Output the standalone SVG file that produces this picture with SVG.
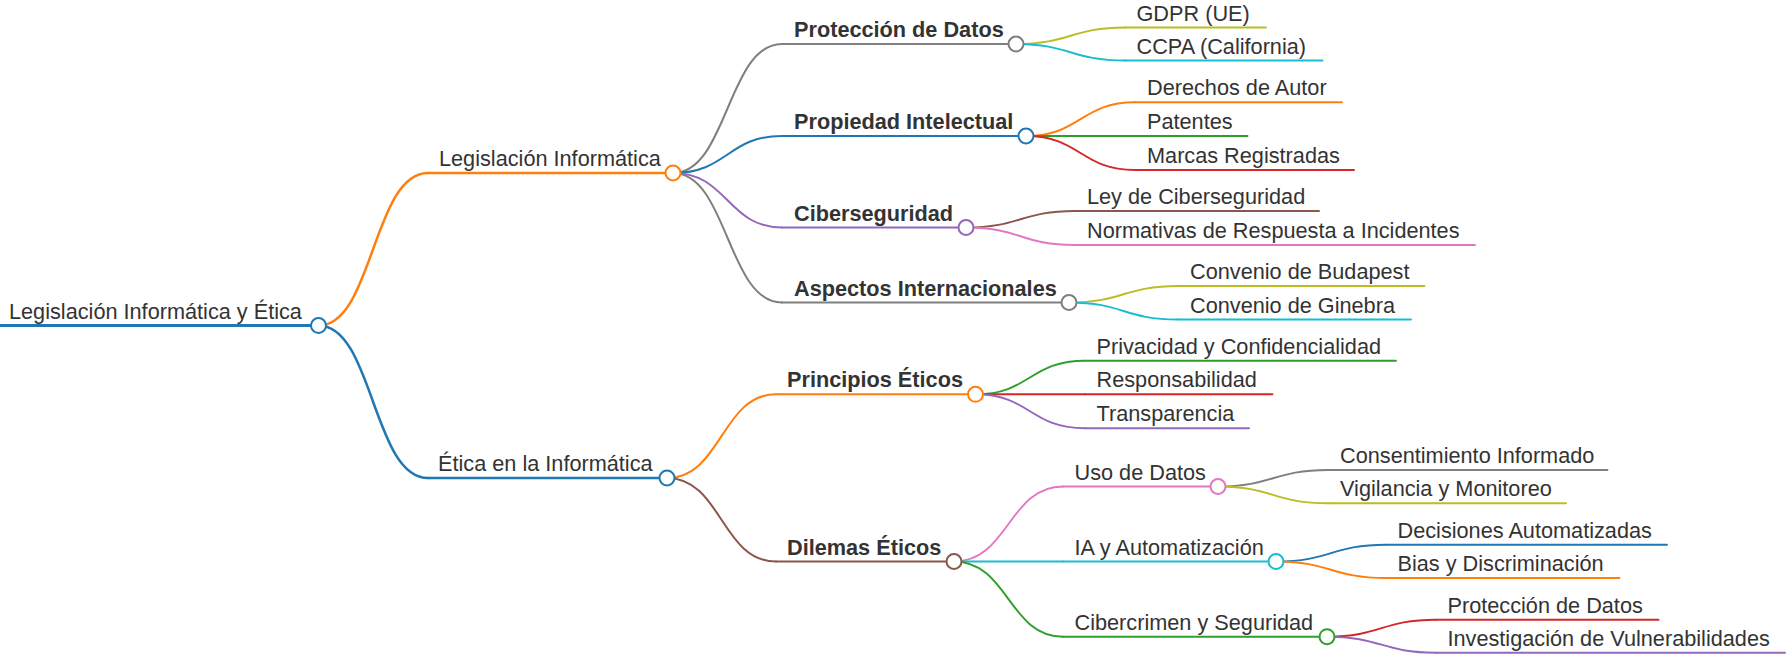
<svg xmlns="http://www.w3.org/2000/svg" width="1787" height="659" viewBox="0 0 1787 659">
<style>
text{font-family:"Liberation Sans",Arial,Helvetica,sans-serif;font-size:21.7px;fill:#333}
text.b{font-weight:bold}
path{fill:none;stroke-linecap:round}
.w0{stroke-width:3}
.w1{stroke-width:2.5}
.w2{stroke-width:2}
.w3{stroke-width:1.9}
circle{fill:#fff;stroke-width:2}
.blue{stroke:#1f77b4}.orange{stroke:#ff7f0e}.green{stroke:#2ca02c}.red{stroke:#d62728}.purple{stroke:#9467bd}
.brown{stroke:#8c564b}.pink{stroke:#e377c2}.gray{stroke:#7f7f7f}.olive{stroke:#bcbd22}.cyan{stroke:#17becf}
</style>
<rect width="1787" height="659" fill="#fff"/>
<g id="connectors">
<path class="w1 orange" d="M318.5,325.5 C373,325.5 373,173 428,173"/>
<path class="w1 blue" d="M318.5,325.5 C373,325.5 373,478 428,478"/>
<path class="w2 gray" d="M673,173 C727.5,173 727.5,44 782,44"/>
<path class="w2 blue" d="M673,173 C727.5,173 727.5,136 782,136"/>
<path class="w2 purple" d="M673,173 C727.5,173 727.5,227.5 782,227.5"/>
<path class="w2 gray" d="M673,173 C727.5,173 727.5,302.5 782,302.5"/>
<path class="w2 orange" d="M667,478 C721.5,478 721.5,394.3 776,394.3"/>
<path class="w2 brown" d="M667,478 C721.5,478 721.5,561.5 776,561.5"/>
<path class="w3 olive" d="M1016,44 C1070.5,44 1070.5,27.5 1125,27.5"/>
<path class="w3 cyan" d="M1016,44 C1070.5,44 1070.5,60.5 1125,60.5"/>
<path class="w3 orange" d="M1026,136 C1080.5,136 1080.5,102.3 1135,102.3"/>
<path class="w3 green" d="M1026,136 C1080.5,136 1080.5,136 1135,136"/>
<path class="w3 red" d="M1026,136 C1080.5,136 1080.5,170 1135,170"/>
<path class="w3 brown" d="M966,227.5 C1020.5,227.5 1020.5,211 1075,211"/>
<path class="w3 pink" d="M966,227.5 C1020.5,227.5 1020.5,245 1075,245"/>
<path class="w3 olive" d="M1069,302.5 C1123.5,302.5 1123.5,286 1178,286"/>
<path class="w3 cyan" d="M1069,302.5 C1123.5,302.5 1123.5,319.5 1178,319.5"/>
<path class="w3 green" d="M975.5,394.3 C1030,394.3 1030,360.7 1085,360.7"/>
<path class="w3 red" d="M975.5,394.3 C1030,394.3 1030,394.3 1085,394.3"/>
<path class="w3 purple" d="M975.5,394.3 C1030,394.3 1030,428.3 1085,428.3"/>
<path class="w3 pink" d="M954,561.5 C1008.5,561.5 1008.5,486.5 1063,486.5"/>
<path class="w3 cyan" d="M954,561.5 C1008.5,561.5 1008.5,561.5 1063,561.5"/>
<path class="w3 green" d="M954,561.5 C1008.5,561.5 1008.5,636.7 1063,636.7"/>
<path class="w3 gray" d="M1218,486.5 C1273,486.5 1273,470 1328,470"/>
<path class="w3 olive" d="M1218,486.5 C1273,486.5 1273,503.3 1328,503.3"/>
<path class="w3 blue" d="M1276,561.5 C1331,561.5 1331,544.7 1386,544.7"/>
<path class="w3 orange" d="M1276,561.5 C1331,561.5 1331,578 1386,578"/>
<path class="w3 red" d="M1327,636.7 C1381.5,636.7 1381.5,619.7 1436,619.7"/>
<path class="w3 purple" d="M1327,636.7 C1381.5,636.7 1381.5,652.7 1436,652.7"/>
</g>
<g id="n-root"><path class="w0 blue" d="M0,325.5 H318.5"/><circle class="blue" cx="318.5" cy="325.5" r="7.5"/><text x="9" y="318.5">Legislación Informática y Ética</text></g>
<g id="n-legis"><path class="w1 orange" d="M428,173 H673"/><circle class="orange" cx="673" cy="173" r="7.5"/><text x="439" y="166">Legislación Informática</text></g>
<g id="n-etica"><path class="w1 blue" d="M428,478 H667"/><circle class="blue" cx="667" cy="478" r="7.5"/><text x="438" y="471">Ética en la Informática</text></g>
<g id="n-proteccion"><path class="w2 gray" d="M782,44 H1016"/><circle class="gray" cx="1016" cy="44" r="7.5"/><text class="b" x="794" y="37">Protección de Datos</text></g>
<g id="n-propiedad"><path class="w2 blue" d="M782,136 H1026"/><circle class="blue" cx="1026" cy="136" r="7.5"/><text class="b" x="794" y="129">Propiedad Intelectual</text></g>
<g id="n-ciber"><path class="w2 purple" d="M782,227.5 H966"/><circle class="purple" cx="966" cy="227.5" r="7.5"/><text class="b" x="794" y="220.5">Ciberseguridad</text></g>
<g id="n-aspectos"><path class="w2 gray" d="M782,302.5 H1069"/><circle class="gray" cx="1069" cy="302.5" r="7.5"/><text class="b" x="794" y="295.5">Aspectos Internacionales</text></g>
<g id="n-principios"><path class="w2 orange" d="M776,394.3 H975.5"/><circle class="orange" cx="975.5" cy="394.3" r="7.5"/><text class="b" x="787" y="387.3">Principios Éticos</text></g>
<g id="n-dilemas"><path class="w2 brown" d="M776,561.5 H954"/><circle class="brown" cx="954" cy="561.5" r="7.5"/><text class="b" x="787" y="554.5">Dilemas Éticos</text></g>
<g id="n-gdpr"><path class="w3 olive" d="M1125,27.5 H1266"/><text x="1136.5" y="20.5">GDPR (UE)</text></g>
<g id="n-ccpa"><path class="w3 cyan" d="M1125,60.5 H1322.5"/><text x="1136.5" y="53.5">CCPA (California)</text></g>
<g id="n-derechos"><path class="w3 orange" d="M1135,102.3 H1342"/><text x="1147" y="95.3">Derechos de Autor</text></g>
<g id="n-patentes"><path class="w3 green" d="M1135,136 H1247.5"/><text x="1147" y="129">Patentes</text></g>
<g id="n-marcas"><path class="w3 red" d="M1135,170 H1354"/><text x="1147" y="163">Marcas Registradas</text></g>
<g id="n-ley"><path class="w3 brown" d="M1075,211 H1319"/><text x="1087" y="204">Ley de Ciberseguridad</text></g>
<g id="n-normativas"><path class="w3 pink" d="M1075,245 H1475"/><text x="1087" y="238">Normativas de Respuesta a Incidentes</text></g>
<g id="n-budapest"><path class="w3 olive" d="M1178,286 H1424.5"/><text x="1190" y="279">Convenio de Budapest</text></g>
<g id="n-ginebra"><path class="w3 cyan" d="M1178,319.5 H1411"/><text x="1190" y="312.5">Convenio de Ginebra</text></g>
<g id="n-privacidad"><path class="w3 green" d="M1085,360.7 H1396"/><text x="1096.5" y="353.7">Privacidad y Confidencialidad</text></g>
<g id="n-responsabilidad"><path class="w3 red" d="M1085,394.3 H1272.5"/><text x="1096.5" y="387.3">Responsabilidad</text></g>
<g id="n-transparencia"><path class="w3 purple" d="M1085,428.3 H1249"/><text x="1096.5" y="421.3">Transparencia</text></g>
<g id="n-uso"><path class="w3 pink" d="M1063,486.5 H1218"/><circle class="pink" cx="1218" cy="486.5" r="7.5"/><text x="1074.5" y="479.5">Uso de Datos</text></g>
<g id="n-ia"><path class="w3 cyan" d="M1063,561.5 H1276"/><circle class="cyan" cx="1276" cy="561.5" r="7.5"/><text x="1074.5" y="554.5">IA y Automatización</text></g>
<g id="n-cibercrimen"><path class="w3 green" d="M1063,636.7 H1327"/><circle class="green" cx="1327" cy="636.7" r="7.5"/><text x="1074.5" y="629.7">Cibercrimen y Seguridad</text></g>
<g id="n-consentimiento"><path class="w3 gray" d="M1328,470 H1607.5"/><text x="1340" y="463">Consentimiento Informado</text></g>
<g id="n-vigilancia"><path class="w3 olive" d="M1328,503.3 H1566"/><text x="1340" y="496.3">Vigilancia y Monitoreo</text></g>
<g id="n-decisiones"><path class="w3 blue" d="M1386,544.7 H1667"/><text x="1397.5" y="537.7">Decisiones Automatizadas</text></g>
<g id="n-bias"><path class="w3 orange" d="M1386,578 H1619.5"/><text x="1397.5" y="571">Bias y Discriminación</text></g>
<g id="n-proteccion2"><path class="w3 red" d="M1436,619.7 H1658.5"/><text x="1447.5" y="612.7">Protección de Datos</text></g>
<g id="n-investigacion"><path class="w3 purple" d="M1436,652.7 H1785"/><text x="1447.5" y="645.7">Investigación de Vulnerabilidades</text></g>
</svg>
